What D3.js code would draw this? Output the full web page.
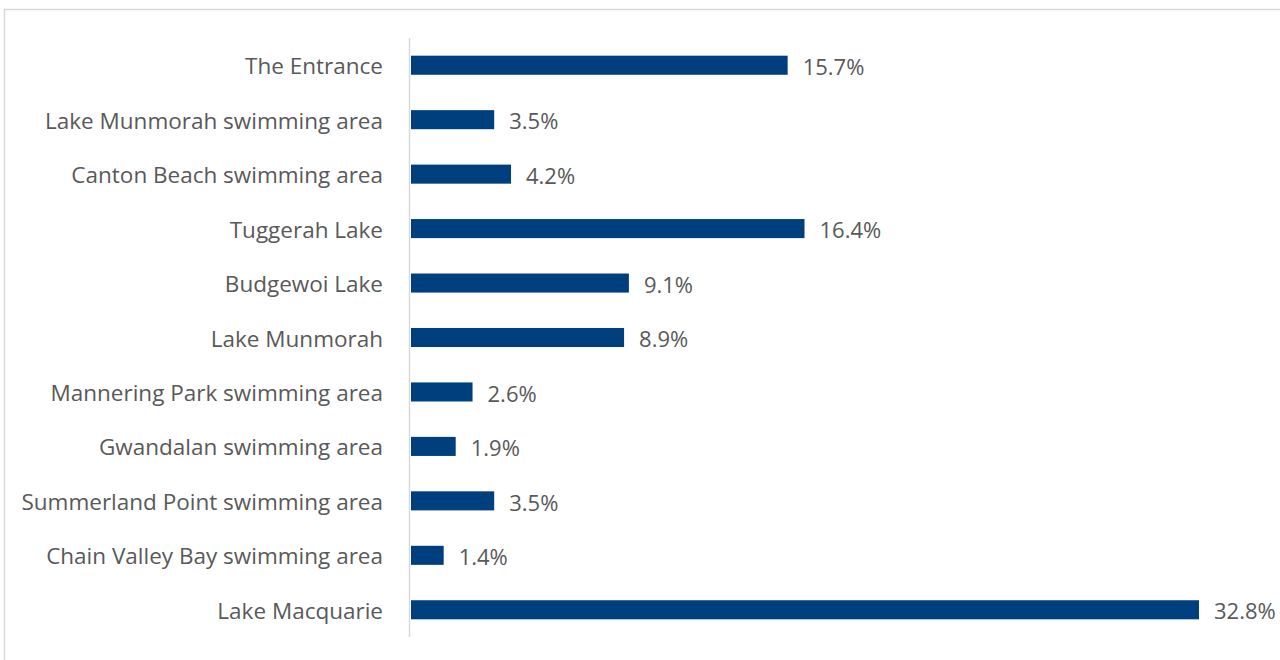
<!DOCTYPE html>
<html>
<head>
<meta charset="utf-8">
<script src="https://cdn.jsdelivr.net/npm/d3@7"></script>
<style>
  html, body { margin: 0; padding: 0; background: #fff; }
  svg { display: block; }
  text { font-family: "Open Sans", "Noto Sans", sans-serif; fill: #595959; }
</style>
</head>
<body>
<svg id="chart" width="1280" height="660"></svg>
<script>
const categories = [
  "The Entrance",
  "Lake Munmorah swimming area",
  "Canton Beach swimming area",
  "Tuggerah Lake",
  "Budgewoi Lake",
  "Lake Munmorah",
  "Mannering Park swimming area",
  "Gwandalan swimming area",
  "Summerland Point swimming area",
  "Chain Valley Bay swimming area",
  "Lake Macquarie"
];
const values = [15.7, 3.5, 4.2, 16.4, 9.1, 8.9, 2.6, 1.9, 3.5, 1.4, 32.8];

const svg = d3.select("#chart");

svg.append("rect")
  .attr("x", 4.5).attr("y", 9.5)
  .attr("width", 1300).attr("height", 700)
  .attr("fill", "none").attr("stroke", "#d9d9d9").attr("stroke-width", 1.5);

const x = d3.scaleLinear().domain([0, 32.8]).range([410, 1199]);
const y = d3.scaleBand().domain(categories).range([38, 637]).paddingInner(0.65).paddingOuter(0.325);

svg.append("line")
  .attr("x1", 409.5).attr("x2", 409.5)
  .attr("y1", 38).attr("y2", 637)
  .attr("stroke", "#d9d9d9").attr("stroke-width", 1.5);

const data = categories.map((c, i) => ({c, v: values[i]}));

svg.selectAll("rect.bar").data(data).join("rect")
  .attr("class", "bar")
  .attr("x", x(0) + 1)
  .attr("y", d => y(d.c))
  .attr("width", d => x(d.v) - x(0) - 1)
  .attr("height", y.bandwidth())
  .attr("fill", "#003f7e");

svg.selectAll("text.cat").data(data).join("text")
  .attr("class", "cat")
  .attr("x", 383)
  .attr("y", d => y(d.c) + y.bandwidth() / 2 + 1.2)
  .attr("dy", "0.35em")
  .attr("text-anchor", "end")
  .attr("font-size", 22.5)
  .text(d => d.c);

svg.selectAll("text.val").data(data).join("text")
  .attr("class", "val")
  .attr("x", d => x(d.v) + 15)
  .attr("y", d => y(d.c) + y.bandwidth() / 2 + 2)
  .attr("dy", "0.35em")
  .attr("font-size", 22)
  .text(d => d.v.toFixed(1) + "%");
</script>
</body>
</html>
